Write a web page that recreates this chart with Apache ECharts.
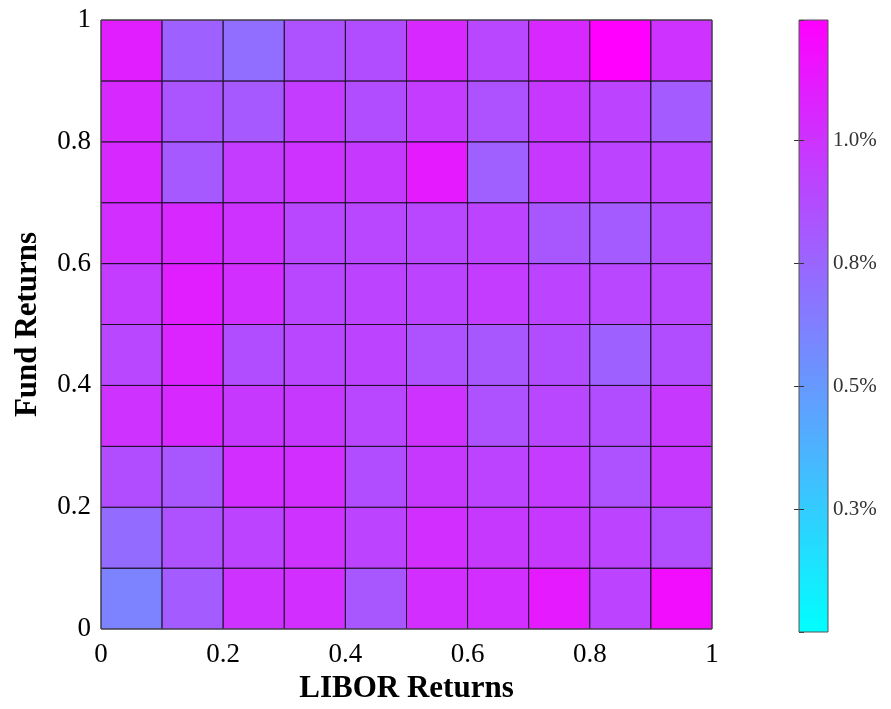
<!DOCTYPE html>
<html>
<head>
<meta charset="utf-8">
<style>
  html, body { margin: 0; padding: 0; background: #fff; }
  #chart { width: 891px; height: 709px; }
</style>
<script src="https://cdn.jsdelivr.net/npm/echarts@6/dist/echarts.min.js"></script>
</head>
<body>
<div id="chart"></div>
<script>
// Bin edges along each axis (lower edge of each 0.1-wide bin)
const liborBins = [0, 0.1, 0.2, 0.3, 0.4, 0.5, 0.6, 0.7, 0.8, 0.9];
const fundBins  = [0, 0.1, 0.2, 0.3, 0.4, 0.5, 0.6, 0.7, 0.8, 0.9];
const binWidth = 0.1;

// Average value (%) per cell; one array per Fund Returns bin, bottom to top,
// each listing the LIBOR Returns bins from left to right
const fund00 = [0.61, 0.80, 1.00, 1.02, 0.82, 1.02, 1.02, 1.12, 0.92, 1.18];
const fund01 = [0.72, 0.85, 0.92, 1.00, 0.92, 1.02, 0.97, 0.97, 0.92, 0.87];
const fund02 = [0.87, 0.82, 1.02, 1.02, 0.87, 0.97, 0.92, 0.95, 0.85, 0.97];
const fund03 = [1.00, 1.05, 0.97, 0.97, 0.90, 1.00, 0.85, 0.90, 0.87, 0.97];
const fund04 = [0.90, 1.07, 0.87, 0.90, 0.92, 0.85, 0.82, 0.87, 0.77, 0.87];
const fund05 = [0.95, 1.10, 1.02, 0.90, 0.92, 0.92, 0.95, 0.92, 0.90, 0.90];
const fund06 = [1.02, 1.05, 1.00, 0.90, 0.90, 0.90, 0.92, 0.82, 0.80, 0.87];
const fund07 = [1.05, 0.81, 0.95, 1.00, 0.97, 1.12, 0.78, 0.97, 0.92, 0.92];
const fund08 = [1.05, 0.83, 0.81, 0.95, 0.87, 0.95, 0.85, 0.97, 0.92, 0.80];
const fund09 = [1.10, 0.77, 0.71, 0.85, 0.87, 1.05, 0.90, 1.05, 1.245, 1.00];
const cellValues = [fund00, fund01, fund02, fund03, fund04, fund05, fund06, fund07, fund08, fund09];

// Colour scale range (%), colormap end colours and colorbar ticks
const colorMin = 0;
const colorMax = 1.245;
const colormap = ['#00ffff', '#ff00ff'];
const colorTicks = [0.25, 0.5, 0.75, 1.0];

const data = [];
fundBins.forEach((fy, r) => {
  liborBins.forEach((lx, c) => {
    data.push([lx, fy, cellValues[r][c]]);
  });
});

const serif = '"Liberation Serif", "DejaVu Serif", serif';

const chart = echarts.init(document.getElementById('chart'), null, { renderer: 'canvas' });

const colorbarAxis = (position, withLabels) => ({
  type: 'value', gridIndex: 1, position: position,
  min: colorMin, max: colorMax, interval: 0.25, z: 6,
  axisLine: { show: false }, splitLine: { show: false },
  axisTick: { show: true, inside: true, length: 5, lineStyle: { color: '#333' } },
  axisLabel: withLabels ? {
    fontFamily: serif, fontSize: 21, color: '#333', margin: 5,
    showMinLabel: false, showMaxLabel: false,
    formatter: v => colorTicks.some(t => Math.abs(t - v) < 1e-9) ? v.toFixed(1) + '%' : ''
  } : { show: false }
});

chart.setOption({
  animation: false,
  backgroundColor: '#ffffff',
  grid: [
    { left: 101, top: 20, width: 611, height: 612, show: true, borderColor: '#555', borderWidth: 1, backgroundColor: 'transparent', z: 5 },
    { left: 799, top: 20, width: 29, height: 612, show: true, borderColor: '#555', borderWidth: 1, backgroundColor: 'transparent', z: 7 }
  ],
  xAxis: [
    {
      type: 'value', gridIndex: 0, min: 0, max: 1, interval: 0.2,
      name: 'LIBOR Returns', nameLocation: 'middle', nameGap: 44,
      nameTextStyle: { fontFamily: serif, fontSize: 31, fontWeight: 'bold', color: '#000' },
      axisLine: { show: false }, axisTick: { show: false }, splitLine: { show: false },
      axisLabel: { fontFamily: serif, fontSize: 27, color: '#000', margin: 12 }
    },
    { type: 'value', gridIndex: 1, min: 0, max: 1, show: false }
  ],
  yAxis: [
    {
      type: 'value', gridIndex: 0, min: 0, max: 1, interval: 0.2,
      name: 'Fund Returns', nameLocation: 'middle', nameGap: 58, nameRotate: 90,
      nameTextStyle: { fontFamily: serif, fontSize: 31, fontWeight: 'bold', color: '#000' },
      axisLine: { show: false }, axisTick: { show: false }, splitLine: { show: false },
      axisLabel: { fontFamily: serif, fontSize: 27, color: '#000', margin: 10 }
    },
    colorbarAxis('right', true),
    colorbarAxis('left', false)
  ],
  visualMap: {
    type: 'continuous',
    show: false,
    min: colorMin, max: colorMax,
    dimension: 2,
    seriesIndex: 0,
    inRange: { color: colormap }
  },
  series: [
    {
      type: 'custom',
      xAxisIndex: 0, yAxisIndex: 0,
      data: data,
      encode: { x: 0, y: 1 },
      renderItem: (params, api) => {
        const x0 = api.value(0), y0 = api.value(1);
        const p0 = api.coord([x0, y0 + binWidth]);
        const p1 = api.coord([x0 + binWidth, y0]);
        return {
          type: 'rect',
          shape: { x: p0[0], y: p0[1], width: p1[0] - p0[0], height: p1[1] - p0[1] },
          style: { fill: api.visual('color'), stroke: '#1a0d26', lineWidth: 1 }
        };
      }
    },
    {
      // Colorbar: one gradient strip spanning the full colour range
      type: 'custom',
      xAxisIndex: 1, yAxisIndex: 1,
      z: 1,
      data: [[0, colorMin, 1, colorMax]],
      encode: { x: [0, 2], y: [1, 3] },
      renderItem: (params, api) => {
        const top = api.coord([api.value(0), api.value(3)]);
        const bottom = api.coord([api.value(2), api.value(1)]);
        return {
          type: 'rect',
          shape: { x: top[0], y: top[1], width: bottom[0] - top[0], height: bottom[1] - top[1] },
          style: {
            fill: new echarts.graphic.LinearGradient(0, 0, 0, 1, [
              { offset: 0, color: colormap[1] },
              { offset: 1, color: colormap[0] }
            ])
          }
        };
      }
    }
  ]
});
</script>
</body>
</html>
